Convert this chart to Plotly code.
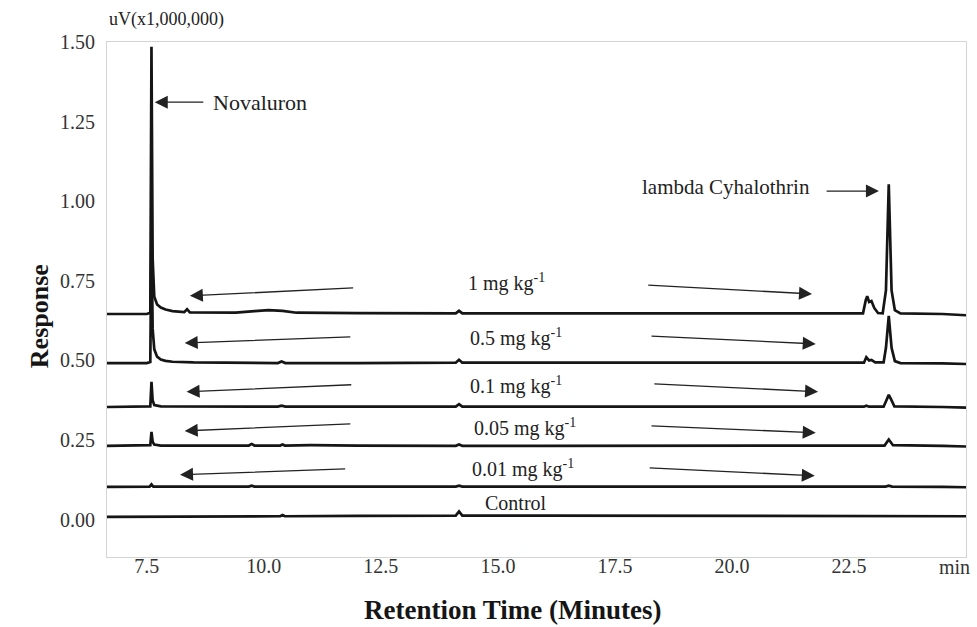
import plotly.graph_objects as go

# ---- data (time in min, response in uV x 1,000,000) ----
T_1MG = [6.65, 7.50, 7.575, 7.60, 7.625, 7.66, 7.72, 7.80, 7.90, 8.05, 8.30, 8.36, 8.42, 9.40, 9.80,
         10.10, 10.40, 10.70, 12.00, 14.10, 14.17, 14.24, 16.00, 19.00, 22.00, 22.80, 22.86, 22.89,
         22.93, 22.98, 23.04, 23.12, 23.22, 23.29, 23.35, 23.41, 23.48, 23.60, 24.50, 25.00]
R_1MG = [0.646, 0.646, 0.650, 1.485, 0.820, 0.700, 0.676, 0.666, 0.660, 0.655, 0.652, 0.661, 0.651,
         0.650, 0.655, 0.658, 0.656, 0.650, 0.649, 0.648, 0.656, 0.648, 0.648, 0.647, 0.646, 0.648,
         0.690, 0.702, 0.684, 0.687, 0.665, 0.649, 0.648, 0.720, 1.053, 0.720, 0.658, 0.648, 0.646,
         0.642]

T_05MG = [6.65, 7.50, 7.575, 7.60, 7.625, 7.66, 7.72, 7.80, 7.90, 8.05, 8.50, 10.30, 10.38, 10.46,
          12.00, 14.10, 14.17, 14.24, 16.00, 19.00, 22.00, 22.82, 22.87, 22.93, 22.98, 23.06, 23.24,
          23.29, 23.35, 23.41, 23.48, 23.60, 24.50, 25.00]
R_05MG = [0.492, 0.492, 0.495, 0.910, 0.600, 0.535, 0.512, 0.503, 0.499, 0.496, 0.494, 0.492, 0.497,
          0.492, 0.492, 0.493, 0.502, 0.493, 0.493, 0.492, 0.492, 0.493, 0.510, 0.500, 0.502, 0.494,
          0.494, 0.540, 0.640, 0.540, 0.498, 0.492, 0.491, 0.489]

T_01MG = [6.65, 7.50, 7.575, 7.60, 7.625, 7.66, 7.80, 10.30, 10.38, 10.46, 12.00, 14.10, 14.17,
          14.24, 16.00, 19.00, 22.00, 22.82, 22.87, 22.93, 23.24, 23.30, 23.35, 23.40, 23.47, 24.50,
          25.00]
R_01MG = [0.354, 0.354, 0.356, 0.433, 0.375, 0.360, 0.356, 0.355, 0.358, 0.355, 0.355, 0.355, 0.363,
          0.355, 0.355, 0.354, 0.354, 0.355, 0.358, 0.355, 0.355, 0.378, 0.392, 0.378, 0.356, 0.354,
          0.352]

T_005MG = [6.65, 7.50, 7.575, 7.60, 7.625, 7.66, 7.80, 9.00, 9.68, 9.74, 9.80, 10.35, 10.40, 10.45,
           11.00, 12.00, 14.10, 14.17, 14.24, 16.00, 19.00, 22.00, 23.26, 23.35, 23.44, 24.50, 25.00]
R_005MG = [0.232, 0.232, 0.234, 0.276, 0.245, 0.236, 0.233, 0.233, 0.233, 0.238, 0.233, 0.233, 0.236,
           0.233, 0.234, 0.233, 0.232, 0.236, 0.232, 0.232, 0.232, 0.232, 0.233, 0.252, 0.234, 0.232,
           0.230]

T_001MG = [6.65, 7.50, 7.56, 7.60, 7.64, 9.68, 9.74, 9.80, 10.35, 10.40, 10.45, 12.00, 14.10, 14.17,
           14.24, 16.00, 19.00, 22.00, 23.28, 23.35, 23.42, 24.50, 25.00]
R_001MG = [0.103, 0.103, 0.104, 0.111, 0.104, 0.104, 0.107, 0.104, 0.104, 0.106, 0.104, 0.104, 0.104,
           0.107, 0.104, 0.104, 0.104, 0.104, 0.104, 0.107, 0.104, 0.103, 0.102]

T_CTRL = [6.65, 8.00, 10.00, 10.35, 10.40, 10.45, 12.00, 14.10, 14.17, 14.24, 16.00, 19.00, 22.00,
          24.50, 25.00]
R_CTRL = [0.009, 0.010, 0.011, 0.011, 0.015, 0.011, 0.012, 0.013, 0.026, 0.013, 0.013, 0.013, 0.013,
          0.012, 0.011]

SERIES_NAMES = ["1 mg kg-1", "0.5 mg kg-1", "0.1 mg kg-1", "0.05 mg kg-1", "0.01 mg kg-1", "Control"]
LABELS = ["1 mg kg<sup>-1</sup>", "0.5 mg kg<sup>-1</sup>", "0.1 mg kg<sup>-1</sup>",
          "0.05 mg kg<sup>-1</sup>", "0.01 mg kg<sup>-1</sup>", "Control"]
# label positions (time, response)
LABEL_X = [15.19, 15.39, 15.39, 15.58, 15.53, 15.38]
LABEL_Y = [0.745, 0.572, 0.421, 0.290, 0.161, 0.053]
# left arrows: tail (x, y) -> head (x, y)
LA_TAIL_X = [11.94, 11.88, 11.90, 11.88, 11.77]
LA_TAIL_Y = [0.728, 0.574, 0.424, 0.301, 0.160]
LA_HEAD_X = [8.42, 8.31, 8.35, 8.31, 8.21]
LA_HEAD_Y = [0.703, 0.555, 0.402, 0.279, 0.141]
# right arrows
RA_TAIL_X = [18.18, 18.25, 18.31, 18.25, 18.21]
RA_TAIL_Y = [0.737, 0.577, 0.427, 0.295, 0.163]
RA_HEAD_X = [21.71, 21.79, 21.84, 21.79, 21.77]
RA_HEAD_Y = [0.709, 0.552, 0.402, 0.273, 0.138]

X_TICKS = [7.5, 10.0, 12.5, 15.0, 17.5, 20.0, 22.5]
X_TICK_TEXT = ["7.5", "10.0", "12.5", "15.0", "17.5", "20.0", "22.5"]
Y_TICKS = [0.0, 0.25, 0.5, 0.75, 1.0, 1.25, 1.5]
Y_TICK_TEXT = ["0.00", "0.25", "0.50", "0.75", "1.00", "1.25", "1.50"]

FONT = "Liberation Serif, Times New Roman, serif"
INK = "#151515"

fig = go.Figure()
series = [(T_1MG, R_1MG), (T_05MG, R_05MG), (T_01MG, R_01MG), (T_005MG, R_005MG),
          (T_001MG, R_001MG), (T_CTRL, R_CTRL)]
for (t, r), name in zip(series, SERIES_NAMES):
    fig.add_trace(go.Scatter(x=t, y=r, mode="lines", name=name,
                             line=dict(color=INK, width=2.7), showlegend=False))

ARROW = dict(showarrow=True, arrowhead=2, arrowsize=2.0, arrowwidth=1.3, arrowcolor="#222")

ann = []
for lx, ly, lt in zip(LABEL_X, LABEL_Y, LABELS):
    ann.append(dict(x=lx, y=ly, xref="x", yref="y", text=lt, showarrow=False,
                    font=dict(family=FONT, size=20, color="#222")))
for tx, ty, hx, hy in zip(LA_TAIL_X, LA_TAIL_Y, LA_HEAD_X, LA_HEAD_Y):
    ann.append(dict(x=hx, y=hy, ax=tx, ay=ty, xref="x", yref="y", axref="x", ayref="y",
                    text="", **ARROW))
for tx, ty, hx, hy in zip(RA_TAIL_X, RA_TAIL_Y, RA_HEAD_X, RA_HEAD_Y):
    ann.append(dict(x=hx, y=hy, ax=tx, ay=ty, xref="x", yref="y", axref="x", ayref="y",
                    text="", **ARROW))
# Novaluron
ann.append(dict(x=7.67, y=1.311, ax=8.74, ay=1.311, xref="x", yref="y", axref="x", ayref="y",
                text="", **ARROW))
ann.append(dict(x=8.88, y=1.311, xref="x", yref="y", text="Novaluron", showarrow=False,
                xanchor="left", font=dict(family=FONT, size=22, color="#222")))
# lambda Cyhalothrin
ann.append(dict(x=23.14, y=1.032, ax=21.99, ay=1.032, xref="x", yref="y", axref="x", ayref="y",
                text="", **ARROW))
ann.append(dict(x=21.71, y=1.046, xref="x", yref="y", text="lambda Cyhalothrin", showarrow=False,
                xanchor="right", font=dict(family=FONT, size=21, color="#222")))
# unit label and "min"
ann.append(dict(x=0.0, y=1.043, xref="paper", yref="paper", text="uV(x1,000,000)",
                showarrow=False, xanchor="left", yanchor="middle",
                font=dict(family=FONT, size=18, color="#222")))
ann.append(dict(x=24.76, y=-0.02, xref="x", yref="paper", text="min", showarrow=False,
                yanchor="middle", font=dict(family=FONT, size=20, color="#333")))
# axis titles
ann.append(dict(x=-0.097, y=0.468, xref="paper", yref="paper", text="<b>Response</b>",
                showarrow=False, textangle=-90, font=dict(family=FONT, size=26, color=INK)))
ann.append(dict(x=0.472, y=-0.102, xref="paper", yref="paper",
                text="<b>Retention Time (Minutes)</b>", showarrow=False, yanchor="middle",
                font=dict(family=FONT, size=27, color=INK)))

fig.update_layout(
    width=977, height=627,
    margin=dict(l=107, r=11, t=42, b=70),
    paper_bgcolor="white", plot_bgcolor="white",
    font=dict(family=FONT, color="#333"),
    annotations=ann,
    xaxis=dict(range=[6.65, 25.0], tickvals=X_TICKS, ticktext=X_TICK_TEXT, showgrid=False,
               zeroline=False, showline=True, linecolor="#d4d4d4", linewidth=1, mirror=True,
               ticks="", ticklen=0, ticklabelstandoff=-9,
               tickfont=dict(family=FONT, size=20, color="#333")),
    yaxis=dict(range=[-0.117, 1.5], tickvals=Y_TICKS, ticktext=Y_TICK_TEXT, showgrid=False,
               zeroline=False, showline=True, linecolor="#d4d4d4", linewidth=1, mirror=True,
               ticks="", ticklen=0, ticklabelstandoff=7,
               tickfont=dict(family=FONT, size=20, color="#333")),
)

fig.write_html("out.html")
